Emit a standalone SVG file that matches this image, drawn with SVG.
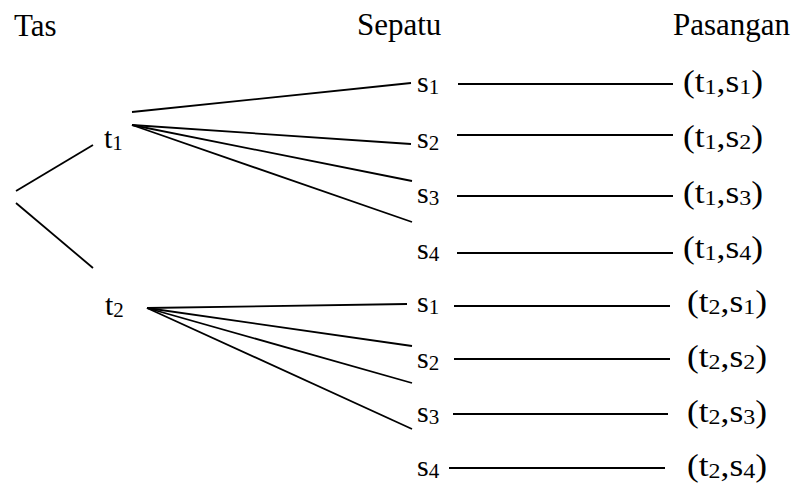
<svg xmlns="http://www.w3.org/2000/svg" width="792" height="483" viewBox="0 0 792 483">
<style>
.t{font-family:'Liberation Serif','Times New Roman','DejaVu Serif',serif;fill:#000}
.h{font-size:31px}
.m{font-size:30px}
.p{font-size:31px}
.sub{font-size:21px}
.c line{stroke:#000;stroke-width:1.8;stroke-linecap:butt}
</style>
<rect width="792" height="483" fill="#fff"/>
<g id="headers" class="t">
<text class="h" x="14" y="36">Tas</text>
<text class="h" x="357" y="35">Sepatu</text>
<text class="h" x="790" y="35" text-anchor="end">Pasangan</text>
</g>
<g id="connectors" class="c">
<line x1="16" y1="191" x2="93" y2="145"/>
<line x1="16" y1="203" x2="93" y2="268"/>
<line x1="132" y1="112" x2="411" y2="83"/>
<line x1="132" y1="125" x2="411" y2="144"/>
<line x1="132" y1="125" x2="412" y2="181"/>
<line x1="132" y1="125" x2="412" y2="222"/>
<line x1="147" y1="308" x2="407" y2="304"/>
<line x1="147" y1="308" x2="412" y2="346"/>
<line x1="147" y1="308" x2="412" y2="383"/>
<line x1="147" y1="308" x2="412" y2="429"/>
<line x1="458" y1="84" x2="673" y2="84"/>
<line x1="457" y1="135" x2="673" y2="135"/>
<line x1="457" y1="196" x2="673" y2="196"/>
<line x1="457" y1="253" x2="673" y2="253"/>
<line x1="454" y1="306" x2="670" y2="306"/>
<line x1="454" y1="359" x2="670" y2="359"/>
<line x1="453" y1="414" x2="668" y2="414"/>
<line x1="449" y1="468" x2="665" y2="468"/>
</g>
<g class="t">
<g id="t1"><text class="m" x="104" y="148">t<tspan class="sub" dy="2">1</tspan></text></g>
<g id="t2"><text class="m" x="105" y="315">t<tspan class="sub" dy="2">2</tspan></text></g>
<g id="s1a"><text class="m" x="417" y="92">s<tspan class="sub" dy="2">1</tspan></text></g>
<g id="s2a"><text class="m" x="417" y="148">s<tspan class="sub" dy="2">2</tspan></text></g>
<g id="s3a"><text class="m" x="417" y="203">s<tspan class="sub" dy="2">3</tspan></text></g>
<g id="s4a"><text class="m" x="417" y="259">s<tspan class="sub" dy="2">4</tspan></text></g>
<g id="s1b"><text class="m" x="417" y="312">s<tspan class="sub" dy="2">1</tspan></text></g>
<g id="s2b"><text class="m" x="417" y="368">s<tspan class="sub" dy="2">2</tspan></text></g>
<g id="s3b"><text class="m" x="417" y="422">s<tspan class="sub" dy="2">3</tspan></text></g>
<g id="s4b"><text class="m" x="417" y="476">s<tspan class="sub" dy="2">4</tspan></text></g>
<g id="p11"><text class="p" x="683" y="92" textLength="80" lengthAdjust="spacingAndGlyphs">(t<tspan class="sub" dy="2">1</tspan><tspan dy="-2">,s</tspan><tspan class="sub" dy="2">1</tspan><tspan dy="-2">)</tspan></text></g>
<g id="p12"><text class="p" x="683" y="147" textLength="80" lengthAdjust="spacingAndGlyphs">(t<tspan class="sub" dy="2">1</tspan><tspan dy="-2">,s</tspan><tspan class="sub" dy="2">2</tspan><tspan dy="-2">)</tspan></text></g>
<g id="p13"><text class="p" x="683" y="203" textLength="80" lengthAdjust="spacingAndGlyphs">(t<tspan class="sub" dy="2">1</tspan><tspan dy="-2">,s</tspan><tspan class="sub" dy="2">3</tspan><tspan dy="-2">)</tspan></text></g>
<g id="p14"><text class="p" x="683" y="258" textLength="80" lengthAdjust="spacingAndGlyphs">(t<tspan class="sub" dy="2">1</tspan><tspan dy="-2">,s</tspan><tspan class="sub" dy="2">4</tspan><tspan dy="-2">)</tspan></text></g>
<g id="p21"><text class="p" x="687" y="312" textLength="80" lengthAdjust="spacingAndGlyphs">(t<tspan class="sub" dy="2">2</tspan><tspan dy="-2">,s</tspan><tspan class="sub" dy="2">1</tspan><tspan dy="-2">)</tspan></text></g>
<g id="p22"><text class="p" x="687" y="367" textLength="80" lengthAdjust="spacingAndGlyphs">(t<tspan class="sub" dy="2">2</tspan><tspan dy="-2">,s</tspan><tspan class="sub" dy="2">2</tspan><tspan dy="-2">)</tspan></text></g>
<g id="p23"><text class="p" x="687" y="422" textLength="80" lengthAdjust="spacingAndGlyphs">(t<tspan class="sub" dy="2">2</tspan><tspan dy="-2">,s</tspan><tspan class="sub" dy="2">3</tspan><tspan dy="-2">)</tspan></text></g>
<g id="p24"><text class="p" x="687" y="476" textLength="80" lengthAdjust="spacingAndGlyphs">(t<tspan class="sub" dy="2">2</tspan><tspan dy="-2">,s</tspan><tspan class="sub" dy="2">4</tspan><tspan dy="-2">)</tspan></text></g>
</g>
</svg>
